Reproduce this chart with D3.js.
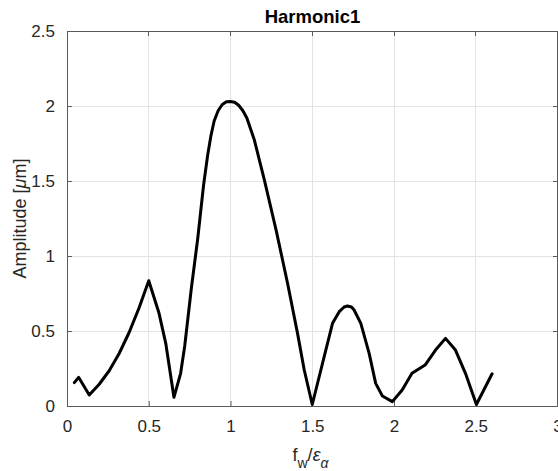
<!DOCTYPE html>
<meta charset="utf-8">
<style>
body { margin: 0; background: #fff; }
svg { display: block; font-family: "Liberation Sans", Arial, Helvetica, sans-serif; }
.grid line { stroke: #e3e3e3; stroke-width: 1px; shape-rendering: crispEdges; }
.tick text { fill: #262626; font-size: 17px; }
.box { fill: none; stroke: #5a5a5a; stroke-width: 1px; shape-rendering: crispEdges; }
.ticks line { stroke: #5a5a5a; stroke-width: 1px; shape-rendering: crispEdges; }
.curve { fill: none; stroke: #000; stroke-width: 3px; stroke-linejoin: round; stroke-linecap: round; }
</style>
<svg width="558" height="471"></svg>
<script src="https://cdn.jsdelivr.net/npm/d3@7"></script>
<script>

// values
var fw = [0.045, 0.071, 0.136, 0.197, 0.258, 0.319, 0.38, 0.441, 0.5, 0.563, 0.604, 0.654, 0.695, 0.72,
          0.76, 0.80, 0.835, 0.86, 0.88, 0.90, 0.925, 0.95, 0.975, 1.0, 1.025, 1.05, 1.075, 1.10,
          1.146, 1.207, 1.279, 1.349, 1.41, 1.451, 1.5, 1.573, 1.624, 1.665, 1.695, 1.715, 1.74, 1.756,
          1.797, 1.848, 1.888, 1.929, 1.99, 2.05, 2.11, 2.19, 2.254, 2.315, 2.376, 2.437, 2.504, 2.6];
var amp = [0.156, 0.191, 0.073, 0.145, 0.235, 0.35, 0.49, 0.655, 0.835, 0.618, 0.418, 0.058, 0.218, 0.40,
           0.78, 1.12, 1.47, 1.67, 1.80, 1.90, 1.97, 2.01, 2.028, 2.03, 2.025, 2.005, 1.97, 1.92,
           1.773, 1.507, 1.173, 0.818, 0.484, 0.24, 0.01, 0.329, 0.551, 0.629, 0.66, 0.667, 0.66, 0.64,
           0.551, 0.351, 0.151, 0.067, 0.029, 0.107, 0.218, 0.273, 0.373, 0.451, 0.373, 0.218, 0.01, 0.215];
var xTicks = [0, 0.5, 1, 1.5, 2, 2.5, 3];
var yTicks = [0, 0.5, 1, 1.5, 2, 2.5];
var title = "Harmonic1";

var svg = d3.select("svg"),
    margin = {top: 31, right: 0, bottom: 65, left: 67},
    width = +svg.attr("width") - margin.left - margin.right,
    height = +svg.attr("height") - margin.top - margin.bottom;

var x = d3.scaleLinear().domain([0, 3]).range([0, width - 0.5]);
var y = d3.scaleLinear().domain([0, 2.5]).range([height, 0]);

var g = svg.append("g")
    .attr("transform", "translate(" + margin.left + "," + margin.top + ")");

// grid
var grid = g.append("g").attr("class", "grid");
grid.selectAll(".gx").data(xTicks).enter().append("line")
    .attr("x1", x).attr("x2", x).attr("y1", 0).attr("y2", height);
grid.selectAll(".gy").data(yTicks).enter().append("line")
    .attr("y1", y).attr("y2", y).attr("x1", 0).attr("x2", width);

// axes (inward ticks, mirrored on top / right)
var xAxis = g.append("g")
    .attr("transform", "translate(0," + height + ")")
    .call(d3.axisBottom(x).tickValues(xTicks).tickSizeInner(-5).tickSizeOuter(0).tickPadding(14)
      .tickFormat(d3.format("")));
xAxis.select(".domain").remove();
xAxis.selectAll(".tick line").attr("stroke", "#5a5a5a");

var yAxis = g.append("g")
    .call(d3.axisLeft(y).tickValues(yTicks).tickSizeInner(-5).tickSizeOuter(0).tickPadding(12)
      .tickFormat(d3.format("")));
yAxis.select(".domain").remove();
yAxis.selectAll(".tick line").attr("stroke", "#5a5a5a");

var mirror = g.append("g").attr("class", "ticks");
mirror.selectAll(".tx").data(xTicks).enter().append("line")
    .attr("x1", x).attr("x2", x).attr("y1", 0).attr("y2", 5);
mirror.selectAll(".ty").data(yTicks).enter().append("line")
    .attr("y1", y).attr("y2", y).attr("x1", width - 5).attr("x2", width);

g.append("rect").attr("class", "box")
    .attr("x", 0.5).attr("y", 0.5).attr("width", width - 1).attr("height", height);

// curve
var line = d3.line()
    .x(function(d, i) { return x(fw[i]); })
    .y(function(d) { return y(d); });

g.append("path")
    .datum(amp)
    .attr("class", "curve")
    .attr("d", line);

// title
svg.append("text")
    .attr("x", margin.left + width / 2)
    .attr("y", 23)
    .attr("text-anchor", "middle")
    .attr("font-weight", "bold")
    .attr("font-size", "18.5px")
    .attr("fill", "#000")
    .text(title);

// x label: f_w / epsilon_alpha
var xl = svg.append("text")
    .attr("x", margin.left + width / 2 - 2)
    .attr("y", 461)
    .attr("text-anchor", "middle")
    .attr("font-size", "18px")
    .attr("fill", "#262626");
xl.append("tspan").text("f");
xl.append("tspan").attr("dy", 7).attr("font-size", "14px").text("w");
xl.append("tspan").attr("dy", -7).text("/");
xl.append("tspan").attr("font-style", "italic").text("\u03b5");
xl.append("tspan").attr("dy", 7).attr("font-size", "14px").attr("font-style", "italic").text("\u03b1");

// y label
var yl = svg.append("text")
    .attr("transform", "translate(26," + (margin.top + height / 2) + ") rotate(-90)")
    .attr("text-anchor", "middle")
    .attr("font-size", "18px")
    .attr("fill", "#262626");
yl.append("tspan").text("Amplitude [");
yl.append("tspan").attr("font-style", "italic").text("\u03bc");
yl.append("tspan").text("m]");

</script>
